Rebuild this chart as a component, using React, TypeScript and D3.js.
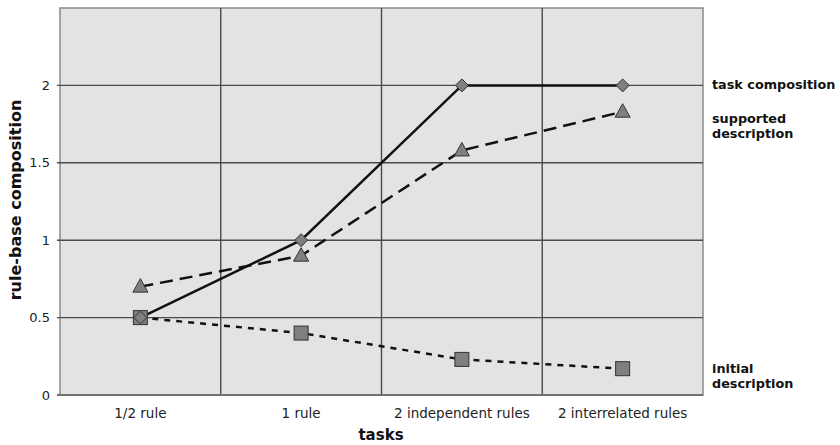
import React from "react";
import * as d3 from "d3";

const categories = ["1/2 rule", "1 rule", "2 independent rules", "2 interrelated rules"];
const taskComposition = [0.5, 1, 2, 2];
const supportedDescription = [0.7, 0.9, 1.58, 1.83];
const initialDescription = [0.5, 0.4, 0.23, 0.17];
const yTicks = [0, 0.5, 1, 1.5, 2];
const yTickLabels = ["0", "0.5", "1", "1.5", "2"];
const seriesLabels = [["task composition"], ["supported", "description"], ["initial", "description"]];

const W = 840, H = 445;
const L = 60, R = 703, T = 8, B = 395;

export default function App() {
  const x = d3.scaleBand().domain(categories).range([L, R]);
  const y = d3.scaleLinear().domain([0, 2.5]).range([B, T]);
  const cx = (c: string) => (x(c) as number) + x.bandwidth() / 2;
  const line = d3.line<[string, number]>().x((d) => cx(d[0])).y((d) => y(d[1]));
  const zip = (v: number[]) => categories.map((c, i) => [c, v[i]] as [string, number]);
  const font = "DejaVu Sans, Verdana, sans-serif";
  const markerFill = "#7f7f7f";
  const markerStroke = "#333";

  const diamond = (px: number, py: number, k: number) => (
    <path key={k} d={`M${px},${py - 6.5}L${px + 6.5},${py}L${px},${py + 6.5}L${px - 6.5},${py}Z`} fill={markerFill} stroke={markerStroke} strokeWidth={1} />
  );
  const triangle = (px: number, py: number, k: number) => (
    <path key={k} d={`M${px},${py - 8}L${px + 7.5},${py + 5.5}L${px - 7.5},${py + 5.5}Z`} fill={markerFill} stroke={markerStroke} strokeWidth={1} />
  );
  const square = (px: number, py: number, k: number) => (
    <rect key={k} x={px - 7} y={py - 7} width={14} height={14} fill={markerFill} stroke={markerStroke} strokeWidth={1} />
  );

  const labelX = 712;
  const labelBaselines = [89, 123, 373];

  return (
    <svg width={W} height={H} style={{ position: "absolute", left: 0, top: 0, background: "#fff" }}>
      <rect x={L} y={T} width={R - L} height={B - T} fill="#e3e3e3" stroke="#8a8a8a" strokeWidth={1.5} />
      {yTicks.map((t, i) => (
        <g key={i}>
          <line x1={L - 3} x2={R} y1={y(t)} y2={y(t)} stroke="#4a4a4a" strokeWidth={1.4} />
          <text x={L - 10} y={y(t)} dy="0.35em" textAnchor="end" fontFamily={font} fontSize={13} fill="#222">
            {yTickLabels[i]}
          </text>
        </g>
      ))}
      {categories.slice(1).map((c, i) => (
        <line key={i} x1={x(c) as number} x2={x(c) as number} y1={T} y2={B} stroke="#4a4a4a" strokeWidth={1.4} />
      ))}
      {categories.map((c, i) => (
        <text key={i} x={cx(c)} y={418} textAnchor="middle" fontFamily={font} fontSize={13.5} fill="#222">
          {c}
        </text>
      ))}
      <line x1={L} x2={R} y1={B} y2={B} stroke="#777" strokeWidth={1.5} />
      <path d={line(zip(initialDescription)) as string} fill="none" stroke="#111" strokeWidth={2.5} strokeDasharray="6,6" />
      <path d={line(zip(supportedDescription)) as string} fill="none" stroke="#111" strokeWidth={2.5} strokeDasharray="13,7" />
      <path d={line(zip(taskComposition)) as string} fill="none" stroke="#111" strokeWidth={2.5} />
      {zip(initialDescription).map((d, i) => square(cx(d[0]), y(d[1]), i))}
      {zip(supportedDescription).map((d, i) => triangle(cx(d[0]), y(d[1]), i))}
      {zip(taskComposition).map((d, i) => diamond(cx(d[0]), y(d[1]), i))}
      {seriesLabels.map((lines, i) => (
        <text key={i} x={labelX} y={labelBaselines[i]} fontFamily={font} fontSize={12.8} fontWeight="bold" fill="#111">
          {lines.map((s, j) => (
            <tspan key={j} x={labelX} dy={j === 0 ? 0 : 15}>{s}</tspan>
          ))}
        </text>
      ))}
      <text x={381} y={440} textAnchor="middle" fontFamily={font} fontSize={15} fontWeight="bold" fill="#111">
        tasks
      </text>
      <text transform={`translate(21,200) rotate(-90)`} textAnchor="middle" fontFamily={font} fontSize={16} fontWeight="bold" fill="#111">
        rule-base composition
      </text>
    </svg>
  );
}
